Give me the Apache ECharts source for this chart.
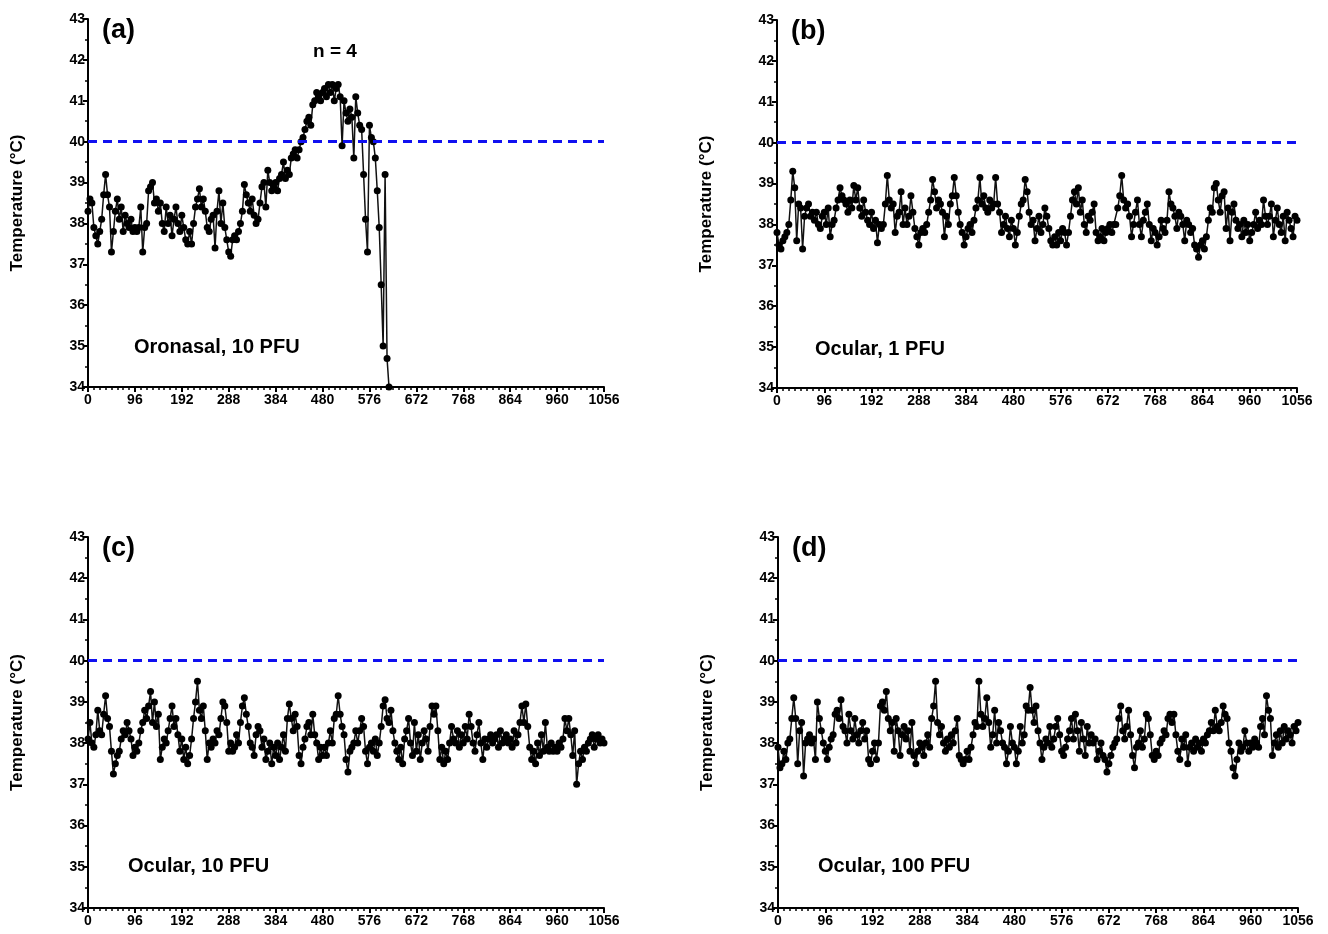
<!DOCTYPE html>
<html>
<head>
<meta charset="utf-8">
<script src="https://cdn.jsdelivr.net/npm/echarts@6/dist/echarts.min.js"></script>
<style>
html,body{margin:0;padding:0;background:#fff;}
#chart{width:1328px;height:934px;}
</style>
</head>
<body>
<div id="chart"></div>
<script>
// Sampling step of the telemetry readings (hours)
const STEP = 4;
const xTicks = [0, 96, 192, 288, 384, 480, 576, 672, 768, 864, 960, 1056];
const yTicks = [34, 35, 36, 37, 38, 39, 40, 41, 42, 43];
const threshold = 40;

const panelLabels = ['(a)', '(b)', '(c)', '(d)'];
const groupLabels = ['Oronasal, 10 PFU', 'Ocular, 1 PFU', 'Ocular, 10 PFU', 'Ocular, 100 PFU'];
const nLabel = 'n = 4';
const yTitle = 'Temperature (\u00B0C)';

// (a) Oronasal, 10 PFU  (h 0..616)
const tempA = [
  38.3, 38.6, 38.5, 37.9, 37.7, 37.5, 37.8, 38.1, 38.7, 39.2,
  38.7, 38.4, 37.3, 37.8, 38.3, 38.6, 38.1, 38.4, 37.8, 38.2,
  38.0, 37.9, 38.1, 37.8, 37.9, 37.8, 37.9, 38.4, 37.3, 37.9,
  38.0, 38.8, 38.9, 39.0, 38.5, 38.6, 38.3, 38.5, 38.0, 37.8,
  38.4, 38.0, 38.2, 37.7, 38.1, 38.4, 38.0, 37.8, 38.2, 37.9,
  37.6, 37.5, 37.8, 37.5, 38.0, 38.4, 38.6, 38.85, 38.4, 38.6,
  38.3, 37.9, 37.8, 38.1, 38.2, 37.4, 38.3, 38.8, 38.0, 38.5,
  37.9, 37.6, 37.3, 37.2, 37.6, 37.7, 37.6, 37.8, 38.0, 38.3,
  38.95, 38.7, 38.5, 38.3, 38.6, 38.2, 38.0, 38.1, 38.5, 38.9,
  39.0, 38.4, 39.3, 39.0, 38.8, 38.9, 39.0, 38.8, 39.1, 39.2,
  39.5, 39.1, 39.3, 39.2, 39.6, 39.7, 39.8, 39.6, 39.8, 40.0,
  40.1, 40.3, 40.5, 40.6, 40.4, 40.9, 41.0, 41.2, 41.1, 41.0,
  41.2, 41.3, 41.1, 41.4, 41.2, 41.4, 41.0, 41.3, 41.4, 41.1,
  39.9, 41.0, 40.7, 40.5, 40.8, 40.6, 39.6, 41.1, 40.7, 40.4,
  40.3, 39.2, 38.1, 37.3, 40.4, 40.1, 40.0, 39.6, 38.8, 37.9,
  36.5, 35.0, 39.2, 34.7, 34.0
];

// (b) Ocular, 1 PFU  (h 0..1056)
const tempB = [
  37.8, 37.5, 37.4, 37.6, 37.7, 37.8, 38.0, 38.6, 39.3, 38.9,
  37.6, 38.5, 38.4, 37.4, 38.2, 38.4, 38.5, 38.2, 38.3, 38.1,
  38.3, 38.0, 37.9, 38.2, 38.3, 38.0, 38.4, 37.7, 38.0, 38.1,
  38.4, 38.6, 38.9, 38.7, 38.6, 38.5, 38.3, 38.6, 38.4, 38.95,
  38.6, 38.9, 38.4, 38.2, 38.6, 38.3, 38.1, 38.0, 38.3, 37.9,
  38.1, 37.55, 38.0, 37.9, 38.0, 38.5, 39.2, 38.6, 38.4, 38.5,
  37.8, 38.2, 38.3, 38.8, 38.0, 38.4, 38.0, 38.2, 38.7, 38.3,
  37.9, 37.7, 37.5, 37.8, 37.9, 37.8, 38.0, 38.3, 38.6, 39.1,
  38.8, 38.4, 38.6, 38.5, 38.3, 37.7, 38.2, 38.0, 38.5, 38.7,
  39.15, 38.7, 38.3, 38.0, 37.8, 37.5, 37.7, 37.9, 38.0, 37.8,
  38.1, 38.4, 38.6, 39.15, 38.5, 38.7, 38.4, 38.3, 38.6, 38.4,
  38.5, 39.15, 38.5, 38.3, 37.8, 38.0, 38.2, 37.9, 37.7, 38.1,
  37.9, 37.5, 37.8, 38.2, 38.5, 38.6, 39.1, 38.8, 38.3, 38.0,
  38.1, 37.6, 37.9, 38.2, 37.8, 38.0, 38.4, 38.2, 37.9, 37.6,
  37.5, 37.7, 37.5, 37.8, 37.6, 37.9, 37.8, 37.5, 37.8, 38.2,
  38.6, 38.8, 38.5, 38.9, 38.3, 38.6, 38.0, 37.8, 38.2, 38.1,
  38.3, 38.5, 37.8, 37.6, 37.7, 37.9, 37.6, 37.8, 37.9, 38.0,
  37.8, 38.0, 38.0, 38.4, 38.7, 39.2, 38.6, 38.4, 38.5, 38.2,
  37.7, 38.0, 38.3, 38.6, 38.0, 37.7, 38.1, 38.3, 38.5, 38.0,
  37.6, 37.9, 37.8, 37.5, 37.7, 38.1, 37.9, 37.8, 38.1, 38.8,
  38.5, 38.4, 38.2, 37.9, 38.3, 38.2, 38.0, 37.6, 38.1, 38.0,
  37.8, 37.9, 37.5, 37.4, 37.2, 37.5, 37.6, 37.4, 37.7, 38.1,
  38.4, 38.3, 38.9, 39.0, 38.6, 38.3, 38.7, 38.8, 37.9, 38.4,
  37.6, 38.3, 38.5, 38.1, 37.9, 38.0, 37.7, 38.1, 37.8, 38.0,
  37.6, 37.8, 38.0, 38.3, 37.9, 38.1, 38.0, 38.6, 38.2, 38.0,
  38.2, 38.5, 37.7, 38.1, 38.4, 38.0, 37.8, 38.2, 37.6, 38.3,
  38.1, 37.9, 37.7, 38.2, 38.1
];

// (c) Ocular, 10 PFU  (h 0..1056)
const tempC = [
  38.1, 38.5, 38.0, 37.9, 38.2, 38.8, 38.3, 38.2, 38.7, 39.15,
  38.6, 38.4, 37.8, 37.25, 37.5, 37.7, 37.8, 38.1, 38.3, 38.2,
  38.5, 38.3, 38.1, 37.7, 37.9, 37.8, 38.0, 38.3, 38.5, 38.8,
  38.6, 38.9, 39.25, 38.5, 39.0, 38.4, 38.7, 37.6, 37.9, 38.1,
  38.0, 38.3, 38.6, 38.9, 38.4, 38.6, 38.2, 37.8, 38.1, 37.6,
  37.9, 37.5, 37.7, 38.1, 38.6, 39.0, 39.5, 38.8, 38.6, 38.9,
  38.3, 37.6, 38.0, 37.9, 38.1, 38.0, 38.3, 38.2, 38.6, 39.0,
  38.9, 38.5, 37.8, 38.0, 37.8, 37.9, 38.2, 38.0, 38.5, 38.9,
  39.1, 38.7, 38.4, 38.0, 37.9, 37.7, 38.2, 38.4, 38.3, 37.9,
  38.1, 37.6, 37.8, 38.0, 37.5, 37.9, 37.7, 38.0, 37.6, 37.9,
  38.2, 37.8, 38.6, 38.95, 38.6, 38.3, 38.7, 38.4, 37.7, 37.5,
  37.9, 38.1, 38.4, 38.5, 38.2, 38.7, 38.2, 38.0, 37.6, 37.9,
  37.7, 37.9, 37.7, 38.0, 38.3, 38.0, 38.6, 38.7, 39.15, 38.7,
  38.4, 38.2, 37.6, 37.3, 37.8, 37.9, 38.0, 38.3, 38.0, 38.3,
  38.6, 38.4, 37.8, 37.5, 37.9, 38.0, 37.8, 38.1, 37.7, 38.0,
  38.4, 38.9, 39.05, 38.6, 38.5, 38.8, 38.3, 38.0, 37.8, 37.6,
  37.9, 37.5, 38.1, 38.3, 38.6, 38.0, 37.7, 38.5, 37.8, 38.2,
  37.6, 38.0, 38.3, 38.1, 37.8, 38.4, 38.9, 38.7, 38.9, 38.3,
  37.6, 37.9, 37.5, 37.8, 37.6, 38.0, 38.4, 38.1, 38.0, 38.3,
  37.9, 38.2, 38.0, 38.4, 38.1, 38.7, 38.4, 38.0, 37.8, 38.2,
  38.5, 38.0, 37.6, 38.1, 37.9, 38.1, 38.2, 38.0, 38.1, 38.2,
  37.9, 38.3, 38.0, 38.1, 38.2, 38.0, 38.1, 37.9, 38.3, 38.0,
  38.2, 38.5, 38.9, 38.5, 38.95, 38.4, 37.9, 37.6, 37.8, 37.5,
  38.0, 37.7, 38.2, 37.8, 38.5, 37.9, 37.8, 38.0, 37.8, 37.9,
  37.8, 38.0, 37.9, 38.1, 38.6, 38.3, 38.6, 38.2, 37.7, 38.3,
  37.0, 37.5, 37.8, 37.6, 37.9, 37.8, 38.0, 38.1, 38.2, 37.9,
  38.1, 38.2, 38.0, 38.1, 38.0
];

// (d) Ocular, 100 PFU  (h 0..1056)
const tempD = [
  37.9, 37.4, 37.5, 37.8, 37.6, 38.0, 38.1, 38.6, 39.1, 38.6,
  37.5, 38.3, 38.5, 37.2, 38.0, 38.1, 38.2, 38.0, 38.1, 37.6,
  39.0, 38.6, 38.3, 38.0, 37.8, 37.6, 37.9, 38.1, 38.2, 38.7,
  38.8, 38.6, 39.05, 38.4, 38.3, 38.0, 38.7, 38.3, 38.1, 38.6,
  38.2, 38.0, 38.3, 38.5, 38.1, 38.3, 37.6, 37.5, 37.8, 38.0,
  37.6, 38.0, 38.9, 39.0, 38.8, 39.25, 38.6, 38.3, 38.5, 37.8,
  38.6, 38.3, 37.7, 38.2, 38.4, 38.1, 38.3, 37.8, 38.5, 37.7,
  37.5, 37.8, 38.0, 37.9, 37.7, 38.0, 38.2, 37.9, 38.6, 38.9,
  39.5, 38.5, 38.2, 38.4, 38.0, 37.8, 38.1, 37.9, 38.2, 38.0,
  38.3, 38.6, 37.7, 37.6, 37.5, 37.6, 37.8, 37.6, 37.9, 38.2,
  38.5, 38.4, 39.5, 38.7, 38.4, 38.6, 39.1, 38.5, 37.9, 38.2,
  38.8, 38.0, 38.5, 38.3, 38.0, 37.9, 37.5, 37.8, 38.4, 38.0,
  37.9, 37.5, 37.8, 38.4, 38.0, 38.2, 38.9, 38.8, 39.35, 38.8,
  38.5, 38.9, 38.3, 38.0, 37.6, 37.9, 38.1, 38.0, 38.4, 37.9,
  38.1, 38.4, 38.6, 38.2, 37.8, 37.7, 37.9, 38.1, 38.3, 38.6,
  38.1, 38.7, 38.3, 37.8, 38.5, 38.1, 37.7, 38.4, 38.0, 38.2,
  38.0, 38.1, 37.6, 37.8, 38.0, 37.7, 37.6, 37.3, 37.5, 37.7,
  37.9, 38.0, 38.1, 38.6, 38.9, 38.3, 38.1, 38.4, 38.8, 38.2,
  37.7, 37.4, 37.9, 38.0, 38.3, 37.9, 38.1, 38.7, 38.6, 38.2,
  37.7, 37.6, 37.8, 37.7, 38.0, 38.1, 38.3, 38.2, 38.6, 38.7,
  38.5, 38.7, 38.2, 37.8, 37.6, 38.1, 37.9, 38.2, 37.5, 37.9,
  38.0, 37.8, 38.1, 37.9, 38.0, 37.8, 38.1, 38.0, 38.2, 38.3,
  38.5, 38.3, 38.8, 38.4, 38.3, 38.5, 38.9, 38.7, 38.6, 38.0,
  37.8, 37.4, 37.2, 37.6, 38.0, 37.8, 37.9, 38.3, 38.0, 37.8,
  38.0, 37.9, 38.1, 38.0, 37.9, 38.4, 38.6, 38.2, 39.15, 38.8,
  38.6, 37.7, 38.0, 38.2, 37.9, 38.3, 38.0, 38.4, 38.1, 38.3,
  38.2, 38.0, 38.4, 38.3, 38.5
];

const seriesData = [tempA, tempB, tempC, tempD];

// layout of the four panels (pixels)
const grids = [
  {left: 88,  top: 19,  width: 516, height: 368},
  {left: 777, top: 20,  width: 520, height: 368},
  {left: 88,  top: 537, width: 516, height: 371},
  {left: 778, top: 537, width: 520, height: 371}
];
const groupLabelPos = [[134, 337], [815, 339], [128, 856], [818, 856]];
const panelLabelPos = [[102, 17], [791, 18], [102, 535], [792, 535]];
const nLabelPos = [313, 42];

const FONT = '"Liberation Sans", Arial, sans-serif';
const chart = echarts.init(document.getElementById('chart'), null, {renderer: 'canvas'});

const option = {
  animation: false,
  backgroundColor: '#ffffff',
  grid: grids.map(g => Object.assign({containLabel: false}, g)),
  xAxis: grids.map((g, i) => ({
    type: 'value', gridIndex: i,
    min: xTicks[0], max: xTicks[xTicks.length - 1], interval: xTicks[1] - xTicks[0],
    axisLine: {show: true, onZero: false, lineStyle: {color: '#000', width: 2}},
    axisTick: {show: true, length: 5, lineStyle: {color: '#000', width: 2}},
    minorTick: {show: true, splitNumber: 8, length: 3, lineStyle: {color: '#000', width: 1.5}},
    splitLine: {show: false},
    axisLabel: {color: '#000', fontFamily: FONT, fontWeight: 'bold', fontSize: 14, margin: 6,
                formatter: v => String(v)}
  })),
  yAxis: grids.map((g, i) => ({
    type: 'value', gridIndex: i,
    min: yTicks[0], max: yTicks[yTicks.length - 1], interval: 1,
    axisLine: {show: true, onZero: false, lineStyle: {color: '#000', width: 2}},
    axisTick: {show: true, length: 5, lineStyle: {color: '#000', width: 2}},
    minorTick: {show: true, splitNumber: 2, length: 3, lineStyle: {color: '#000', width: 1.5}},
    splitLine: {show: false},
    axisLabel: {color: '#000', fontFamily: FONT, fontWeight: 'bold', fontSize: 14, margin: 3,
                formatter: v => String(v)},
    name: yTitle, nameLocation: 'middle', nameGap: 62, nameRotate: 90,
    nameTextStyle: {color: '#000', fontFamily: FONT, fontWeight: 'bold', fontSize: 17}
  })),
  series: seriesData.map((arr, i) => ({
    type: 'line', xAxisIndex: i, yAxisIndex: i,
    data: arr.map((v, k) => [k * STEP, v]),
    symbol: 'circle', symbolSize: 7, showSymbol: true,
    itemStyle: {color: '#000'},
    lineStyle: {color: '#111', width: 1.5},
    clip: true,
    markLine: {
      silent: true, symbol: 'none', label: {show: false},
      lineStyle: {color: '#1010f0', width: 3, type: [9, 6]},
      data: [{yAxis: threshold}]
    },
    z: 3
  })),
  graphic: [
    ...panelLabels.map((t, i) => ({
      type: 'text', left: panelLabelPos[i][0], top: panelLabelPos[i][1],
      style: {text: t, fontSize: 27, fontWeight: 'bold', fontFamily: FONT, fill: '#000'}
    })),
    ...groupLabels.map((t, i) => ({
      type: 'text', left: groupLabelPos[i][0], top: groupLabelPos[i][1],
      style: {text: t, fontSize: 20, fontWeight: 'bold', fontFamily: FONT, fill: '#000'}
    })),
    {type: 'text', left: nLabelPos[0], top: nLabelPos[1],
     style: {text: nLabel, fontSize: 19, fontWeight: 'bold', fontFamily: FONT, fill: '#000'}}
  ]
};
chart.setOption(option);
</script>
</body>
</html>
